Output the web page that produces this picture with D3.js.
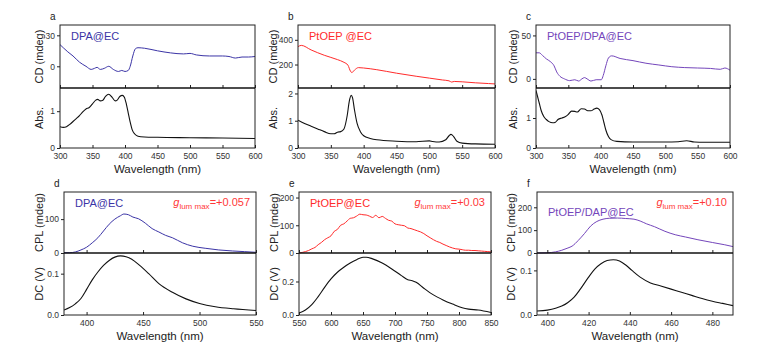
<!DOCTYPE html>
<html>
<head>
<meta charset="utf-8">
<script src="https://cdn.jsdelivr.net/npm/d3@7/dist/d3.min.js"></script>
<style>
  body { margin: 0; background: #fff; }
  svg text { font-family: "Liberation Sans", Arial, sans-serif; }
</style>
</head>
<body>
<div id="chart"></div>
<script>
// ---- data: [wavelength nm, value] ----
const cdDPA = [[300,21],[305,18],[312,14],[320,10],[330,4],[340,0],[348,-3],[353,-2],[357,-1],[362,-3],[368,-2],[375,0],[382,-3],[390,-5],[395,-4],[400,-5],[405,-4],[408,0],[412,10],[416,17],[420,18],[430,17.5],[450,15],[470,13],[490,12],[500,12.5],[510,11],[530,10],[550,10],[560,9.5],[570,8],[580,9],[590,9],[600,9.5]];
const absDPA = [[300,0.58],[305,0.56],[310,0.58],[315,0.64],[320,0.72],[325,0.8],[330,0.88],[335,0.98],[340,1.06],[345,1.1],[350,1.2],[355,1.3],[358,1.32],[362,1.28],[366,1.3],[370,1.4],[375,1.46],[380,1.38],[385,1.28],[388,1.3],[392,1.4],[396,1.43],[399,1.38],[402,1.2],[405,0.95],[408,0.7],[411,0.5],[415,0.38],[420,0.32],[430,0.3],[450,0.29],[500,0.28],[550,0.27],[600,0.26]];
const cdPt = [[300,345],[305,355],[320,318],[340,275],[360,240],[370,218],[376,195],[380,145],[382,135],[386,155],[392,175],[400,172],[420,158],[450,130],[480,105],[500,90],[520,75],[530,68],[534,58],[538,63],[550,60],[570,52],[590,46],[600,43]];
const absPt = [[300,1.02],[310,0.9],[320,0.8],[330,0.7],[340,0.6],[350,0.52],[355,0.52],[360,0.58],[365,0.6],[370,0.7],[375,1.2],[378,1.7],[381,1.93],[383,1.85],[386,1.4],[390,0.9],[395,0.6],[400,0.45],[410,0.35],[420,0.3],[450,0.25],[480,0.23],[500,0.26],[505,0.24],[515,0.22],[525,0.3],[530,0.45],[533,0.5],[537,0.42],[542,0.25],[550,0.18],[570,0.15],[600,0.14]];
const cdMix = [[300,30],[305,30],[310,27],[316,23],[322,20],[328,15],[332,8],[337,3],[344,0],[352,-2],[360,-1],[366,-2.5],[371,0],[375,1.5],[379,0],[385,-2.5],[393,-1],[401,-1],[404,4],[408,15],[412,24],[417,26.5],[430,23.5],[450,21],[470,18],[490,16],[510,14],[530,13],[550,12.5],[570,12],[585,11],[592,12.5],[600,10]];
const absMix = [[300,1.92],[302,1.75],[305,1.5],[308,1.25],[312,1.05],[316,0.95],[320,0.88],[326,0.84],[330,0.86],[334,0.95],[340,1.0],[345,1.04],[350,1.12],[355,1.23],[360,1.22],[364,1.2],[370,1.31],[375,1.3],[380,1.24],[385,1.24],[390,1.3],[394,1.33],[398,1.28],[402,1.1],[405,0.85],[408,0.6],[412,0.38],[416,0.28],[425,0.22],[450,0.2],[500,0.2],[520,0.21],[533,0.24],[545,0.2],[560,0.19],[600,0.19]];
const cplDPA = [[380,1],[385,1],[390,3],[395,9],[400,17],[405,30],[410,45],[415,65],[420,85],[425,100],[430,110],[433,115],[437,113],[441,106],[446,101],[452,88],[458,72],[464,62],[470,52],[476,45],[485,30],[494,20],[505,14],[517,9],[529,6],[540,4],[550,2]];
const dcDPA = [[380,0.012],[385,0.018],[390,0.027],[395,0.04],[400,0.062],[405,0.085],[410,0.104],[415,0.12],[420,0.132],[425,0.14],[430,0.143],[435,0.141],[440,0.135],[447,0.12],[455,0.1],[464,0.076],[476,0.055],[488,0.039],[500,0.028],[514,0.02],[530,0.015],[550,0.011]];
const cplPt = [[550,0],[555,2],[560,5],[565,9],[570,15],[575,20],[580,30],[585,38],[590,48],[595,55],[600,62],[605,78],[610,85],[615,100],[620,105],[625,115],[630,125],[635,127],[640,133],[645,140],[650,138],[655,137],[660,133],[665,128],[670,136],[675,127],[680,132],[685,125],[690,118],[695,115],[700,105],[705,102],[710,100],[715,98],[720,90],[725,88],[730,84],[735,80],[740,76],[745,70],[750,62],[755,55],[760,48],[765,42],[770,38],[775,32],[780,27],[785,22],[790,18],[795,15],[800,14],[805,12],[810,10],[815,10],[820,9],[825,9],[830,8],[835,7],[840,6],[845,5],[850,4]];
const dcPt = [[550,0.012],[560,0.03],[570,0.062],[580,0.11],[590,0.165],[600,0.215],[610,0.255],[620,0.285],[630,0.31],[640,0.33],[650,0.345],[655,0.345],[665,0.335],[680,0.31],[695,0.275],[710,0.235],[720,0.21],[727,0.205],[733,0.195],[745,0.16],[760,0.12],[775,0.09],[790,0.065],[805,0.043],[815,0.035],[830,0.03],[850,0.015]];
const cplMix = [[395,0],[400,1],[404,5],[407,12],[410,22],[412,30],[415,55],[418,85],[421,118],[424,138],[427,148],[430,152],[434,153],[438,151],[442,148],[445,140],[448,128],[452,115],[457,95],[462,80],[467,70],[473,58],[480,46],[486,36],[490,28]];
const dcMix = [[395,0.009],[400,0.011],[404,0.015],[407,0.02],[410,0.028],[413,0.04],[416,0.058],[420,0.085],[423,0.103],[426,0.115],[429,0.122],[432,0.124],[435,0.121],[438,0.112],[441,0.1],[445,0.085],[450,0.072],[455,0.065],[460,0.058],[465,0.051],[470,0.044],[475,0.037],[480,0.031],[485,0.026],[490,0.021]];

const colBlue = "#3b34a6", colRed = "#ff2b2b", colPurple = "#7446bb";

const panels = [
  { letter: "a", name: "DPA@EC", color: colBlue, L: 60, R: 255, T: 25, M: 88, B: 148, titleOff: 21,
    xDom: [300, 600], xTicks: [300, 350, 400, 450, 500, 550, 600],
    topDom: [-21, 40], topTicks: [0, 30], topTitle: "CD (mdeg)", topData: cdDPA,
    botDom: [0, 1.63], botTicks: [0, 1], botTitle: "Abs.", botData: absDPA, botFmt: d3.format("d") },
  { letter: "b", name: "PtOEP @EC", color: colRed, L: 298, R: 495, T: 25, M: 88, B: 148, titleOff: 25,
    xDom: [300, 600], xTicks: [300, 350, 400, 450, 500, 550, 600],
    topDom: [10, 520], topTicks: [200, 400], topTitle: "CD (mdeg)", topData: cdPt,
    botDom: [0, 2.2], botTicks: [0, 1, 2], botTitle: "Abs.", botData: absPt, botFmt: d3.format("d") },
  { letter: "c", name: "PtOEP/DPA@EC", color: colPurple, L: 536, R: 730, T: 25, M: 88, B: 148, titleOff: 23,
    xDom: [300, 600], xTicks: [300, 350, 400, 450, 500, 550, 600],
    topDom: [-10.5, 62], topTicks: [0, 50], topTitle: "CD (mdeg)", topData: cdMix,
    botDom: [0, 2.0], botTicks: [0, 1], botTitle: "Abs.", botData: absMix, botFmt: d3.format("d") },
  { letter: "d", name: "DPA@EC", color: colBlue, g: "=+0.057", L: 64, R: 256, T: 192, M: 253, B: 315, titleOff: 25,
    xDom: [380, 550], xTicks: [400, 450, 500, 550],
    topDom: [0, 180], topTicks: [0, 100], topTitle: "CPL (mdeg)", topData: cplDPA,
    botDom: [0, 0.15], botTicks: [0, 0.1], botTitle: "DC (V)", botData: dcDPA, botFmt: d3.format(".1f") },
  { letter: "e", name: "PtOEP@EC", color: colRed, g: "=+0.03", L: 299, R: 491, T: 192, M: 253, B: 315, titleOff: 25,
    xDom: [550, 850], xTicks: [550, 600, 650, 700, 750, 800, 850],
    topDom: [0, 220], topTicks: [0, 100, 200], topTitle: "CPL (mdeg)", topData: cplPt,
    botDom: [0, 0.37], botTicks: [0, 0.2], botTitle: "DC (V)", botData: dcPt, botFmt: d3.format(".1f") },
  { letter: "f", name: "PtOEP/DAP@EC", color: colPurple, g: "=+0.10", L: 537, R: 733, T: 192, M: 253, B: 315, titleOff: 26,
    xDom: [395, 490], xTicks: [400, 420, 440, 460, 480],
    topDom: [0, 267], topTicks: [0, 100, 200], topTitle: "CPL (mdeg)", topData: cplMix,
    botDom: [0, 0.139], botTicks: [0, 0.1], botTitle: "DC (V)", botData: dcMix, botFmt: d3.format(".1f"), nameDy: 9 }
];

const svg = d3.select("#chart").append("svg")
  .attr("width", 761).attr("height", 345);

panels.forEach((p, i) => {
  const g = svg.append("g");
  const x = d3.scaleLinear().domain(p.xDom).range([p.L, p.R]);
  const yT = d3.scaleLinear().domain(p.topDom).range([p.M, p.T]);
  const yB = d3.scaleLinear().domain(p.botDom).range([p.B, p.M]);

  const clipId = "clip" + i;
  svg.append("clipPath").attr("id", clipId)
    .append("rect").attr("x", p.L).attr("y", p.T).attr("width", p.R - p.L).attr("height", p.B - p.T);

  const lineT = d3.line().x(d => x(d[0])).y(d => yT(d[1])).curve(d3.curveMonotoneX);
  const lineB = d3.line().x(d => x(d[0])).y(d => yB(d[1])).curve(d3.curveMonotoneX);

  g.append("path").datum(p.topData)
    .attr("clip-path", `url(#${clipId})`)
    .attr("d", lineT).attr("fill", "none").attr("stroke", p.color).attr("stroke-width", 1);
  g.append("path").datum(p.botData)
    .attr("clip-path", `url(#${clipId})`)
    .attr("d", lineB).attr("fill", "none").attr("stroke", "#111").attr("stroke-width", 1.1);

  // x axes (ticks inside)
  const axTop = g.append("g").attr("transform", `translate(0,${p.M})`)
    .call(d3.axisBottom(x).tickValues(p.xTicks).tickSize(-3).tickFormat(""));
  const axBot = g.append("g").attr("transform", `translate(0,${p.B})`)
    .call(d3.axisBottom(x).tickValues(p.xTicks).tickSizeInner(-3).tickSizeOuter(0).tickPadding(5));
  // y axes (ticks outside)
  const ayT = g.append("g").attr("transform", `translate(${p.L},0)`)
    .call(d3.axisLeft(yT).tickValues(p.topTicks).tickSize(3).tickPadding(2));
  const ayB = g.append("g").attr("transform", `translate(${p.L},0)`)
    .call(d3.axisLeft(yB).tickValues(p.botTicks).tickSize(3).tickPadding(2).tickFormat(p.botFmt));

  [axTop, axBot, ayT, ayB].forEach(a => {
    a.select(".domain").remove();
    a.selectAll("line").attr("stroke", "#222");
    a.selectAll("text").attr("fill", "#333").style("font-size", "8.5px");
  });

  // frame and divider
  g.append("rect").attr("x", p.L).attr("y", p.T)
    .attr("width", p.R - p.L).attr("height", p.B - p.T)
    .attr("fill", "none").attr("stroke", "#222").attr("stroke-width", 1);
  g.append("line").attr("x1", p.L).attr("x2", p.R).attr("y1", p.M).attr("y2", p.M)
    .attr("stroke", "#111").attr("stroke-width", 1.6);

  // titles
  g.append("text")
    .attr("x", (p.L + p.R) / 2).attr("y", p.B + 25)
    .attr("text-anchor", "middle").style("font-size", "11.5px").attr("fill", "#222")
    .text("Wavelength (nm)");
  g.append("text")
    .attr("transform", `translate(${p.L - p.titleOff + 4},${(p.T + p.M) / 2}) rotate(-90)`)
    .attr("text-anchor", "middle").style("font-size", "11px").attr("fill", "#222")
    .text(p.topTitle);
  g.append("text")
    .attr("transform", `translate(${p.L - p.titleOff + 4},${(p.M + p.B) / 2}) rotate(-90)`)
    .attr("text-anchor", "middle").style("font-size", "11px").attr("fill", "#222")
    .text(p.botTitle);

  g.append("text")
    .attr("x", p.L - 10).attr("y", p.T - 5)
    .style("font-size", "10px").attr("fill", "#222")
    .text(p.letter);

  g.append("text")
    .attr("x", p.L + 11).attr("y", p.T + 15 + (p.nameDy || 0))
    .style("font-size", "11px").attr("fill", p.color)
    .text(p.name);

  if (p.g) {
    const t = g.append("text")
      .attr("x", p.R - 6).attr("y", p.T + 14)
      .attr("text-anchor", "end").style("font-size", "11px").attr("fill", "#ff3838");
    t.append("tspan").style("font-style", "italic").text("g");
    t.append("tspan").attr("dy", 3).style("font-size", "8px").text("lum max");
    t.append("tspan").attr("dy", -3).text(p.g);
  }
});
</script>
</body>
</html>
